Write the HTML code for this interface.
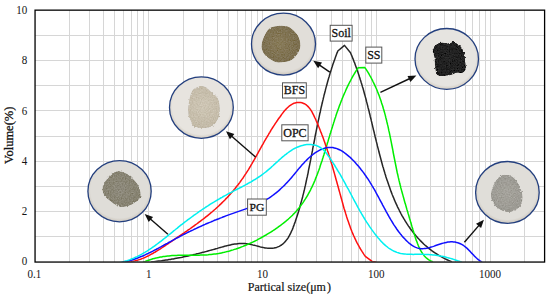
<!DOCTYPE html>
<html><head><meta charset="utf-8">
<style>
html,body{margin:0;padding:0;background:#fff;overflow:hidden;}
svg{display:block;}
text{font-family:"Liberation Serif",serif;fill:#141414;}
.b{stroke:#141414;stroke-width:0.3px;}
</style></head>
<body>
<svg width="550" height="298" viewBox="0 0 550 298">
<rect width="550" height="298" fill="#fff"/>
<g stroke="#d6d6d6" stroke-width="1"><line x1="69.5" y1="10.2" x2="69.5" y2="262"/><line x1="89.5" y1="10.2" x2="89.5" y2="262"/><line x1="103.5" y1="10.2" x2="103.5" y2="262"/><line x1="114.5" y1="10.2" x2="114.5" y2="262"/><line x1="123.5" y1="10.2" x2="123.5" y2="262"/><line x1="131.5" y1="10.2" x2="131.5" y2="262"/><line x1="137.5" y1="10.2" x2="137.5" y2="262"/><line x1="143.5" y1="10.2" x2="143.5" y2="262"/><line x1="148.5" y1="10.2" x2="148.5" y2="262"/><line x1="183.5" y1="10.2" x2="183.5" y2="262"/><line x1="203.5" y1="10.2" x2="203.5" y2="262"/><line x1="217.5" y1="10.2" x2="217.5" y2="262"/><line x1="228.5" y1="10.2" x2="228.5" y2="262"/><line x1="237.5" y1="10.2" x2="237.5" y2="262"/><line x1="245.5" y1="10.2" x2="245.5" y2="262"/><line x1="251.5" y1="10.2" x2="251.5" y2="262"/><line x1="257.5" y1="10.2" x2="257.5" y2="262"/><line x1="262.5" y1="10.2" x2="262.5" y2="262"/><line x1="296.5" y1="10.2" x2="296.5" y2="262"/><line x1="316.5" y1="10.2" x2="316.5" y2="262"/><line x1="331.5" y1="10.2" x2="331.5" y2="262"/><line x1="342.5" y1="10.2" x2="342.5" y2="262"/><line x1="351.5" y1="10.2" x2="351.5" y2="262"/><line x1="358.5" y1="10.2" x2="358.5" y2="262"/><line x1="365.5" y1="10.2" x2="365.5" y2="262"/><line x1="371.5" y1="10.2" x2="371.5" y2="262"/><line x1="376.5" y1="10.2" x2="376.5" y2="262"/><line x1="410.5" y1="10.2" x2="410.5" y2="262"/><line x1="430.5" y1="10.2" x2="430.5" y2="262"/><line x1="444.5" y1="10.2" x2="444.5" y2="262"/><line x1="455.5" y1="10.2" x2="455.5" y2="262"/><line x1="465.5" y1="10.2" x2="465.5" y2="262"/><line x1="472.5" y1="10.2" x2="472.5" y2="262"/><line x1="479.5" y1="10.2" x2="479.5" y2="262"/><line x1="485.5" y1="10.2" x2="485.5" y2="262"/><line x1="490.5" y1="10.2" x2="490.5" y2="262"/><line x1="524.5" y1="10.2" x2="524.5" y2="262"/><line x1="35" y1="236.5" x2="544.6" y2="236.5"/><line x1="35" y1="211.5" x2="544.6" y2="211.5"/><line x1="35" y1="186.5" x2="544.6" y2="186.5"/><line x1="35" y1="161.5" x2="544.6" y2="161.5"/><line x1="35" y1="136.5" x2="544.6" y2="136.5"/><line x1="35" y1="110.5" x2="544.6" y2="110.5"/><line x1="35" y1="85.5" x2="544.6" y2="85.5"/><line x1="35" y1="60.5" x2="544.6" y2="60.5"/><line x1="35" y1="35.5" x2="544.6" y2="35.5"/></g>
<defs><clipPath id="pc"><rect x="35" y="10" width="509.6" height="251.6"/></clipPath></defs>
<g clip-path="url(#pc)"><path d="M151.0,262.0 L152.5,261.8 L154.0,261.7 L155.5,261.5 L157.0,261.3 L158.5,261.1 L160.0,261.0 L161.5,260.8 L163.0,260.5 L164.5,260.3 L165.9,260.1 L167.4,259.9 L168.9,259.6 L170.4,259.4 L171.9,259.1 L173.4,258.9 L174.9,258.6 L176.4,258.3 L177.8,258.0 L179.3,257.7 L180.8,257.5 L182.3,257.2 L183.8,256.8 L185.2,256.5 L186.7,256.2 L188.2,255.9 L189.7,255.6 L191.1,255.2 L192.6,254.9 L194.1,254.5 L195.5,254.2 L197.0,253.8 L198.5,253.5 L199.9,253.1 L201.4,252.7 L202.9,252.3 L204.3,252.0 L205.8,251.6 L207.2,251.2 L208.7,250.8 L210.1,250.4 L211.6,250.0 L213.0,249.6 L214.5,249.2 L215.9,248.8 L217.4,248.4 L218.8,247.9 L220.3,247.5 L221.7,247.1 L223.2,246.7 L224.6,246.3 L226.0,245.9 L227.5,245.6 L228.9,245.2 L230.4,244.9 L231.8,244.6 L233.3,244.3 L234.7,244.1 L236.2,243.9 L237.7,243.7 L239.1,243.6 L240.6,243.5 L242.1,243.5 L243.6,243.5 L245.1,243.6 L246.6,243.7 L248.1,243.9 L249.6,244.2 L251.2,244.5 L252.7,244.9 L254.3,245.2 L255.8,245.6 L257.3,246.1 L258.9,246.5 L260.4,246.9 L262.0,247.2 L263.5,247.6 L265.0,247.9 L266.5,248.1 L268.0,248.2 L269.5,248.3 L271.0,248.3 L272.5,248.2 L273.9,248.0 L275.3,247.7 L276.6,247.4 L277.9,246.9 L279.2,246.4 L280.4,245.7 L281.5,245.0 L282.6,244.2 L283.6,243.3 L284.6,242.3 L285.5,241.2 L286.4,240.1 L287.3,239.0 L288.1,237.8 L288.9,236.5 L289.6,235.2 L290.3,233.8 L291.0,232.4 L291.6,231.0 L292.3,229.6 L292.9,228.1 L293.4,226.6 L294.0,225.1 L294.5,223.6 L295.1,222.1 L295.6,220.6 L296.1,219.1 L296.6,217.6 L297.1,216.1 L297.6,214.6 L298.0,213.2 L298.5,211.7 L298.9,210.2 L299.4,208.7 L299.8,207.3 L300.2,205.8 L300.6,204.3 L301.0,202.8 L301.4,201.4 L301.8,199.9 L302.2,198.5 L302.6,197.0 L302.9,195.6 L303.3,194.1 L303.7,192.6 L304.0,191.2 L304.4,189.7 L304.7,188.3 L305.0,186.8 L305.4,185.4 L305.7,183.9 L306.0,182.5 L306.3,181.0 L306.6,179.6 L306.9,178.1 L307.3,176.7 L307.6,175.2 L307.9,173.8 L308.2,172.3 L308.4,170.9 L308.7,169.4 L309.0,168.0 L309.3,166.5 L309.6,165.1 L309.9,163.6 L310.2,162.1 L310.5,160.7 L310.8,159.2 L311.0,157.7 L311.3,156.3 L311.6,154.8 L311.9,153.3 L312.2,151.8 L312.5,150.4 L312.7,148.9 L313.0,147.4 L313.3,145.9 L313.6,144.4 L313.9,143.0 L314.2,141.5 L314.5,140.0 L314.8,138.5 L315.0,137.0 L315.3,135.5 L315.6,134.0 L315.9,132.6 L316.2,131.1 L316.5,129.6 L316.8,128.1 L317.1,126.6 L317.4,125.1 L317.7,123.6 L318.0,122.1 L318.3,120.6 L318.7,119.1 L319.0,117.7 L319.3,116.2 L319.6,114.7 L319.9,113.2 L320.3,111.7 L320.6,110.2 L320.9,108.7 L321.2,107.3 L321.6,105.8 L321.9,104.3 L322.3,102.8 L322.6,101.3 L323.0,99.9 L323.3,98.4 L323.7,96.9 L324.0,95.4 L324.4,94.0 L324.8,92.5 L325.2,91.0 L325.5,89.6 L325.9,88.1 L326.3,86.6 L326.7,85.2 L327.1,83.7 L327.5,82.3 L327.9,80.8 L328.3,79.4 L328.7,77.9 L329.2,76.5 L329.6,75.0 L330.0,73.6 L330.5,72.1 L330.9,70.7 L331.4,69.3 L331.8,67.8 L332.3,66.4 L332.7,65.0 L333.2,63.6 L333.7,62.2 L334.2,60.8 L334.7,59.4 L335.2,58.0 L335.7,56.6 L336.2,55.2 L336.7,53.8 L337.3,52.4 L337.8,51.0 L344.5,45.4 L350.5,52.8 L351.1,54.2 L351.7,55.6 L352.3,57.0 L352.8,58.4 L353.4,59.8 L353.9,61.2 L354.5,62.6 L355.0,64.0 L355.5,65.4 L356.0,66.8 L356.5,68.2 L357.0,69.7 L357.5,71.1 L358.0,72.5 L358.5,73.9 L359.0,75.4 L359.4,76.8 L359.9,78.2 L360.3,79.7 L360.8,81.1 L361.2,82.5 L361.7,84.0 L362.1,85.4 L362.5,86.9 L363.0,88.3 L363.4,89.8 L363.8,91.2 L364.2,92.7 L364.6,94.2 L365.0,95.6 L365.4,97.1 L365.8,98.5 L366.2,100.0 L366.5,101.5 L366.9,102.9 L367.3,104.4 L367.7,105.9 L368.0,107.4 L368.4,108.8 L368.8,110.3 L369.2,111.8 L369.5,113.3 L369.9,114.7 L370.2,116.2 L370.6,117.7 L371.0,119.2 L371.3,120.7 L371.7,122.1 L372.0,123.6 L372.4,125.1 L372.7,126.6 L373.1,128.1 L373.4,129.6 L373.8,131.0 L374.2,132.5 L374.5,134.0 L374.9,135.5 L375.2,137.0 L375.6,138.5 L376.0,140.0 L376.3,141.4 L376.7,142.9 L377.1,144.4 L377.4,145.9 L377.8,147.4 L378.2,148.9 L378.6,150.4 L378.9,151.8 L379.3,153.3 L379.7,154.8 L380.1,156.3 L380.5,157.8 L380.9,159.3 L381.3,160.7 L381.7,162.2 L382.1,163.7 L382.5,165.2 L382.9,166.7 L383.4,168.1 L383.8,169.6 L384.2,171.1 L384.7,172.6 L385.1,174.0 L385.6,175.5 L386.0,177.0 L386.5,178.4 L387.0,179.9 L387.5,181.3 L388.0,182.8 L388.5,184.3 L389.0,185.7 L389.5,187.1 L390.0,188.6 L390.5,190.0 L391.0,191.4 L391.6,192.9 L392.1,194.3 L392.7,195.7 L393.3,197.1 L393.9,198.5 L394.4,199.9 L395.0,201.3 L395.6,202.7 L396.3,204.1 L396.9,205.4 L397.5,206.8 L398.2,208.1 L398.9,209.5 L399.5,210.8 L400.2,212.1 L400.9,213.5 L401.6,214.8 L402.3,216.1 L403.1,217.4 L403.8,218.7 L404.6,219.9 L405.3,221.2 L406.1,222.4 L406.9,223.7 L407.7,224.9 L408.5,226.1 L409.4,227.3 L410.2,228.5 L411.1,229.7 L412.0,230.9 L412.9,232.1 L413.8,233.2 L414.7,234.3 L415.7,235.5 L416.6,236.6 L417.6,237.7 L418.6,238.8 L419.6,239.8 L420.6,240.9 L421.6,241.9 L422.7,242.9 L423.7,244.0 L424.8,245.0 L425.9,245.9 L427.1,246.9 L428.2,247.8 L429.4,248.8 L430.5,249.7 L431.7,250.6 L432.9,251.5 L434.2,252.3 L435.4,253.2 L436.7,254.0 L438.0,254.8 L439.3,255.6 L440.6,256.4 L442.0,257.1 L443.3,257.9 L444.7,258.6 L446.1,259.3 L447.6,260.0 L449.0,260.6 L450.5,261.3 L452.0,261.9" fill="none" stroke="#262626" stroke-width="1.5" stroke-linejoin="round"/><path d="M143.0,262.5 L144.4,261.9 L145.8,261.3 L147.2,260.7 L148.6,260.2 L150.1,259.7 L151.5,259.3 L152.9,258.8 L154.4,258.4 L155.8,258.1 L157.3,257.7 L158.7,257.4 L160.2,257.1 L161.7,256.9 L163.1,256.6 L164.6,256.4 L166.1,256.2 L167.6,256.0 L169.0,255.9 L170.5,255.7 L172.0,255.6 L173.5,255.5 L175.0,255.4 L176.5,255.4 L178.0,255.3 L179.5,255.3 L181.0,255.2 L182.5,255.2 L184.0,255.2 L185.5,255.2 L187.1,255.2 L188.6,255.2 L190.1,255.2 L191.6,255.2 L193.1,255.2 L194.6,255.2 L196.1,255.2 L197.6,255.2 L199.1,255.2 L200.6,255.1 L202.1,255.1 L203.7,255.0 L205.2,255.0 L206.7,254.9 L208.1,254.8 L209.6,254.6 L211.1,254.5 L212.6,254.3 L214.1,254.1 L215.6,253.9 L217.1,253.7 L218.5,253.5 L220.0,253.2 L221.5,252.9 L222.9,252.6 L224.4,252.3 L225.9,251.9 L227.3,251.5 L228.8,251.2 L230.2,250.8 L231.6,250.3 L233.1,249.9 L234.5,249.4 L235.9,249.0 L237.4,248.5 L238.8,248.0 L240.2,247.5 L241.6,246.9 L243.0,246.4 L244.4,245.8 L245.8,245.2 L247.2,244.6 L248.6,244.0 L249.9,243.4 L251.3,242.8 L252.7,242.1 L254.0,241.5 L255.4,240.8 L256.8,240.1 L258.1,239.4 L259.4,238.7 L260.8,238.0 L262.1,237.2 L263.4,236.5 L264.7,235.7 L266.0,235.0 L267.3,234.2 L268.6,233.4 L269.9,232.6 L271.2,231.8 L272.5,231.0 L273.8,230.1 L275.0,229.3 L276.3,228.4 L277.5,227.6 L278.7,226.7 L279.9,225.8 L281.2,224.9 L282.3,224.0 L283.5,223.1 L284.7,222.2 L285.9,221.2 L287.0,220.2 L288.1,219.3 L289.2,218.3 L290.3,217.2 L291.4,216.2 L292.5,215.2 L293.5,214.1 L294.6,213.0 L295.6,211.9 L296.6,210.8 L297.5,209.7 L298.5,208.6 L299.4,207.4 L300.3,206.2 L301.2,205.0 L302.1,203.8 L303.0,202.6 L303.8,201.4 L304.6,200.1 L305.4,198.9 L306.2,197.6 L307.0,196.3 L307.8,195.0 L308.5,193.7 L309.2,192.4 L309.9,191.1 L310.6,189.8 L311.2,188.4 L311.9,187.1 L312.5,185.7 L313.2,184.4 L313.8,183.0 L314.4,181.6 L315.0,180.2 L315.5,178.8 L316.1,177.4 L316.6,176.0 L317.2,174.6 L317.7,173.2 L318.2,171.8 L318.8,170.3 L319.3,168.9 L319.8,167.5 L320.2,166.0 L320.7,164.6 L321.2,163.1 L321.7,161.7 L322.2,160.2 L322.6,158.8 L323.1,157.3 L323.5,155.9 L324.0,154.4 L324.4,153.0 L324.9,151.5 L325.3,150.1 L325.8,148.6 L326.2,147.2 L326.6,145.7 L327.1,144.3 L327.5,142.8 L328.0,141.4 L328.4,139.9 L328.8,138.5 L329.3,137.0 L329.7,135.6 L330.1,134.1 L330.6,132.7 L331.0,131.2 L331.5,129.8 L331.9,128.4 L332.4,126.9 L332.8,125.5 L333.3,124.0 L333.7,122.6 L334.2,121.2 L334.6,119.7 L335.1,118.3 L335.6,116.9 L336.0,115.5 L336.5,114.0 L337.0,112.6 L337.5,111.2 L338.0,109.8 L338.5,108.4 L339.0,107.0 L339.5,105.6 L340.1,104.1 L340.6,102.7 L341.1,101.4 L341.7,100.0 L342.2,98.6 L342.8,97.2 L343.4,95.8 L344.0,94.4 L344.6,93.0 L345.2,91.7 L345.8,90.3 L346.4,88.9 L347.0,87.6 L347.7,86.2 L348.3,84.9 L349.0,83.5 L349.7,82.2 L350.4,80.9 L351.1,79.5 L351.8,78.2 L352.5,76.9 L353.2,75.6 L354.0,74.3 L354.8,73.0 L355.6,71.7 L356.4,70.4 L357.2,69.1 L358.0,67.8 L364.9,67.6 L365.8,68.9 L366.6,70.1 L367.4,71.4 L368.2,72.7 L369.0,74.0 L369.7,75.3 L370.5,76.7 L371.2,78.0 L371.9,79.3 L372.6,80.7 L373.2,82.0 L373.9,83.4 L374.5,84.7 L375.2,86.1 L375.8,87.5 L376.4,88.8 L377.0,90.2 L377.5,91.6 L378.1,93.0 L378.6,94.4 L379.2,95.8 L379.7,97.2 L380.2,98.7 L380.7,100.1 L381.2,101.5 L381.6,103.0 L382.1,104.4 L382.6,105.8 L383.0,107.3 L383.4,108.7 L383.9,110.2 L384.3,111.7 L384.7,113.1 L385.1,114.6 L385.5,116.1 L385.8,117.5 L386.2,119.0 L386.6,120.5 L386.9,122.0 L387.3,123.5 L387.6,124.9 L388.0,126.4 L388.3,127.9 L388.6,129.4 L388.9,130.9 L389.3,132.4 L389.6,133.9 L389.9,135.4 L390.2,136.9 L390.5,138.4 L390.8,139.9 L391.1,141.4 L391.4,142.9 L391.7,144.5 L392.0,146.0 L392.3,147.5 L392.6,149.0 L392.9,150.5 L393.1,152.0 L393.4,153.5 L393.7,155.0 L394.0,156.5 L394.3,158.0 L394.6,159.5 L394.9,161.0 L395.2,162.5 L395.5,164.0 L395.8,165.5 L396.1,167.0 L396.4,168.5 L396.7,170.0 L397.0,171.5 L397.3,173.0 L397.7,174.5 L398.0,175.9 L398.3,177.4 L398.7,178.9 L399.0,180.4 L399.4,181.8 L399.7,183.3 L400.1,184.8 L400.5,186.2 L400.8,187.7 L401.2,189.1 L401.6,190.6 L402.0,192.0 L402.4,193.5 L402.8,194.9 L403.2,196.4 L403.6,197.8 L404.0,199.3 L404.4,200.7 L404.8,202.2 L405.2,203.6 L405.7,205.1 L406.1,206.5 L406.5,208.0 L406.9,209.4 L407.4,210.9 L407.8,212.3 L408.2,213.8 L408.7,215.3 L409.1,216.7 L409.5,218.2 L410.0,219.7 L410.4,221.1 L410.8,222.6 L411.3,224.1 L411.7,225.6 L412.1,227.0 L412.6,228.5 L413.0,230.0 L413.5,231.5 L413.9,233.0 L414.4,234.5 L414.9,235.9 L415.3,237.4 L415.8,238.9 L416.3,240.4 L416.9,241.8 L417.4,243.3 L418.0,244.7 L418.5,246.1 L419.2,247.5 L419.8,248.9 L420.5,250.2 L421.2,251.5 L422.0,252.7 L422.8,253.9 L423.7,255.1 L424.6,256.2 L425.6,257.2 L426.6,258.2 L427.8,259.1 L428.9,259.9 L430.2,260.6 L431.6,261.3 L433.0,261.9" fill="none" stroke="#00ee00" stroke-width="1.5" stroke-linejoin="round"/><path d="M125.7,262.4 L127.3,262.3 L128.8,262.1 L130.4,261.9 L131.9,261.6 L133.4,261.3 L134.9,260.9 L136.3,260.5 L137.8,260.1 L139.2,259.6 L140.6,259.2 L142.0,258.6 L143.4,258.1 L144.8,257.5 L146.1,256.9 L147.5,256.2 L148.8,255.6 L150.1,254.9 L151.4,254.2 L152.7,253.5 L154.0,252.7 L155.3,252.0 L156.6,251.2 L157.8,250.4 L159.1,249.6 L160.4,248.8 L161.6,248.0 L162.9,247.1 L164.1,246.3 L165.4,245.5 L166.6,244.6 L167.9,243.8 L169.1,242.9 L170.4,242.1 L171.6,241.3 L172.9,240.4 L174.1,239.6 L175.4,238.7 L176.7,237.9 L177.9,237.0 L179.2,236.2 L180.4,235.3 L181.7,234.5 L182.9,233.6 L184.2,232.8 L185.4,231.9 L186.7,231.1 L187.9,230.2 L189.2,229.3 L190.4,228.5 L191.6,227.6 L192.9,226.7 L194.1,225.8 L195.3,224.9 L196.6,224.0 L197.8,223.1 L199.0,222.2 L200.2,221.3 L201.4,220.4 L202.6,219.5 L203.8,218.6 L205.0,217.7 L206.2,216.7 L207.3,215.8 L208.5,214.8 L209.7,213.9 L210.8,212.9 L212.0,212.0 L213.1,211.0 L214.2,210.0 L215.4,209.0 L216.5,208.0 L217.6,207.0 L218.7,206.0 L219.8,204.9 L220.9,203.9 L221.9,202.9 L223.0,201.8 L224.1,200.7 L225.1,199.7 L226.1,198.6 L227.2,197.5 L228.2,196.4 L229.2,195.3 L230.2,194.2 L231.2,193.1 L232.2,191.9 L233.2,190.8 L234.1,189.6 L235.1,188.5 L236.0,187.3 L236.9,186.1 L237.9,185.0 L238.8,183.8 L239.7,182.6 L240.6,181.3 L241.4,180.1 L242.3,178.9 L243.2,177.7 L244.0,176.4 L244.8,175.2 L245.7,173.9 L246.5,172.6 L247.3,171.3 L248.1,170.1 L248.9,168.8 L249.7,167.5 L250.5,166.2 L251.2,164.9 L252.0,163.6 L252.8,162.2 L253.5,160.9 L254.3,159.6 L255.0,158.3 L255.7,157.0 L256.5,155.7 L257.2,154.3 L258.0,153.0 L258.7,151.7 L259.4,150.4 L260.1,149.1 L260.9,147.7 L261.6,146.4 L262.3,145.1 L263.1,143.8 L263.8,142.5 L264.5,141.2 L265.3,139.9 L266.0,138.6 L266.8,137.4 L267.5,136.1 L268.3,134.8 L269.0,133.5 L269.8,132.3 L270.6,131.0 L271.3,129.7 L272.1,128.5 L272.9,127.2 L273.8,125.9 L274.6,124.7 L275.4,123.4 L276.3,122.1 L277.2,120.8 L278.0,119.5 L278.9,118.3 L279.9,117.0 L280.8,115.7 L281.7,114.4 L282.7,113.1 L283.7,111.8 L284.7,110.6 L285.8,109.4 L286.9,108.3 L288.0,107.2 L289.1,106.2 L290.3,105.4 L291.5,104.6 L292.7,103.9 L294.0,103.3 L295.3,102.9 L296.6,102.6 L298.0,102.5 L299.3,102.5 L300.6,102.6 L301.9,102.8 L303.1,103.2 L304.3,103.7 L305.5,104.4 L306.6,105.2 L307.6,106.1 L308.6,107.1 L309.5,108.2 L310.4,109.4 L311.2,110.6 L312.0,111.9 L312.7,113.3 L313.4,114.7 L314.1,116.1 L314.8,117.6 L315.5,119.0 L316.1,120.5 L316.7,121.9 L317.4,123.4 L318.0,124.8 L318.6,126.3 L319.2,127.7 L319.8,129.2 L320.3,130.6 L320.9,132.1 L321.5,133.5 L322.0,135.0 L322.6,136.4 L323.1,137.8 L323.6,139.3 L324.1,140.7 L324.6,142.1 L325.1,143.5 L325.6,145.0 L326.1,146.4 L326.6,147.8 L327.1,149.2 L327.5,150.7 L328.0,152.1 L328.5,153.5 L328.9,154.9 L329.4,156.4 L329.8,157.8 L330.2,159.2 L330.7,160.6 L331.1,162.0 L331.5,163.5 L332.0,164.9 L332.4,166.3 L332.8,167.7 L333.2,169.2 L333.6,170.6 L334.0,172.0 L334.4,173.4 L334.8,174.9 L335.2,176.3 L335.6,177.7 L336.0,179.2 L336.4,180.6 L336.8,182.0 L337.2,183.5 L337.6,184.9 L338.0,186.3 L338.4,187.8 L338.8,189.2 L339.2,190.7 L339.6,192.1 L340.0,193.6 L340.4,195.0 L340.8,196.5 L341.2,198.0 L341.6,199.4 L342.0,200.9 L342.4,202.3 L342.8,203.8 L343.2,205.3 L343.6,206.7 L344.0,208.2 L344.5,209.7 L344.9,211.1 L345.4,212.6 L345.8,214.0 L346.3,215.5 L346.7,217.0 L347.2,218.4 L347.7,219.9 L348.2,221.3 L348.7,222.7 L349.2,224.2 L349.7,225.6 L350.2,227.0 L350.7,228.5 L351.3,229.9 L351.8,231.3 L352.4,232.7 L353.0,234.1 L353.6,235.5 L354.2,236.8 L354.8,238.2 L355.5,239.6 L356.1,240.9 L356.8,242.3 L357.5,243.6 L358.2,244.9 L358.9,246.2 L359.6,247.5 L360.4,248.8 L361.2,250.1 L362.0,251.4 L362.8,252.6 L363.6,253.9 L364.4,255.1 L365.3,256.3 L372.1,261.4 L376.0,262.0" fill="none" stroke="#ff1010" stroke-width="1.5" stroke-linejoin="round"/><path d="M121.7,262.6 L123.2,262.3 L124.7,262.0 L126.2,261.6 L127.7,261.2 L129.1,260.8 L130.6,260.4 L132.0,260.0 L133.4,259.5 L134.9,259.0 L136.3,258.5 L137.7,258.0 L139.1,257.4 L140.5,256.8 L141.9,256.3 L143.3,255.7 L144.6,255.1 L146.0,254.4 L147.4,253.8 L148.7,253.1 L150.1,252.5 L151.4,251.8 L152.8,251.1 L154.1,250.4 L155.4,249.8 L156.8,249.0 L158.1,248.3 L159.4,247.6 L160.8,246.9 L162.1,246.2 L163.4,245.5 L164.7,244.7 L166.0,244.0 L167.4,243.3 L168.7,242.5 L170.0,241.8 L171.3,241.1 L172.6,240.4 L174.0,239.6 L175.3,238.9 L176.6,238.2 L177.9,237.5 L179.3,236.8 L180.6,236.1 L181.9,235.4 L183.3,234.7 L184.6,234.0 L186.0,233.4 L187.3,232.7 L188.6,232.0 L190.0,231.4 L191.3,230.7 L192.7,230.1 L194.1,229.4 L195.4,228.8 L196.8,228.1 L198.1,227.5 L199.5,226.9 L200.9,226.3 L202.2,225.6 L203.6,225.0 L205.0,224.4 L206.3,223.8 L207.7,223.2 L209.1,222.6 L210.5,222.1 L211.9,221.5 L213.3,220.9 L214.6,220.3 L216.0,219.8 L217.4,219.2 L218.8,218.7 L220.2,218.1 L221.6,217.6 L223.0,217.0 L224.4,216.5 L225.9,215.9 L227.3,215.4 L228.7,214.9 L230.1,214.4 L231.5,213.9 L233.0,213.4 L234.4,212.9 L235.8,212.4 L237.2,211.9 L238.7,211.4 L240.1,210.9 L241.5,210.4 L243.0,209.9 L244.4,209.4 L245.8,208.9 L247.2,208.4 L248.7,207.9 L250.1,207.3 L251.5,206.8 L252.9,206.2 L254.3,205.7 L255.7,205.1 L257.0,204.5 L258.4,203.9 L259.7,203.2 L261.1,202.6 L262.4,201.9 L263.7,201.2 L265.0,200.4 L266.3,199.7 L267.6,198.9 L268.9,198.1 L270.1,197.3 L271.4,196.4 L272.6,195.5 L273.8,194.6 L275.0,193.7 L276.1,192.8 L277.3,191.8 L278.5,190.9 L279.6,189.9 L280.7,188.8 L281.8,187.8 L282.9,186.8 L284.0,185.7 L285.1,184.6 L286.1,183.5 L287.2,182.4 L288.2,181.3 L289.2,180.2 L290.2,179.1 L291.2,177.9 L292.2,176.7 L293.1,175.6 L294.1,174.4 L295.1,173.2 L296.0,172.1 L297.0,170.9 L297.9,169.7 L298.9,168.6 L299.9,167.4 L300.9,166.3 L301.9,165.1 L302.9,164.0 L303.9,162.9 L304.9,161.7 L306.0,160.7 L307.1,159.6 L308.2,158.5 L309.3,157.5 L310.5,156.5 L311.7,155.5 L312.9,154.5 L314.1,153.6 L315.4,152.7 L316.7,151.9 L318.0,151.1 L319.3,150.4 L320.6,149.7 L322.0,149.1 L323.3,148.6 L324.7,148.2 L326.1,147.8 L327.4,147.6 L328.8,147.4 L330.2,147.4 L331.5,147.4 L332.9,147.6 L334.2,147.9 L335.6,148.2 L336.9,148.6 L338.2,149.2 L339.5,149.8 L340.8,150.4 L342.1,151.2 L343.4,152.0 L344.6,152.9 L345.9,153.8 L347.1,154.8 L348.3,155.8 L349.5,156.8 L350.7,157.9 L351.8,159.0 L353.0,160.2 L354.1,161.3 L355.2,162.5 L356.2,163.7 L357.3,164.9 L358.3,166.1 L359.3,167.3 L360.3,168.5 L361.2,169.7 L362.2,170.9 L363.1,172.1 L364.0,173.3 L364.8,174.5 L365.7,175.7 L366.5,177.0 L367.4,178.2 L368.2,179.4 L369.0,180.7 L369.8,181.9 L370.5,183.1 L371.3,184.4 L372.0,185.6 L372.8,186.9 L373.5,188.2 L374.3,189.4 L375.0,190.7 L375.7,192.0 L376.4,193.3 L377.1,194.6 L377.8,195.9 L378.5,197.2 L379.2,198.5 L379.9,199.8 L380.6,201.1 L381.3,202.4 L382.0,203.7 L382.7,205.1 L383.4,206.4 L384.1,207.7 L384.9,209.1 L385.6,210.4 L386.3,211.8 L387.1,213.1 L387.8,214.5 L388.6,215.8 L389.3,217.2 L390.1,218.5 L390.9,219.9 L391.7,221.2 L392.5,222.5 L393.3,223.8 L394.1,225.1 L395.0,226.4 L395.9,227.7 L396.7,229.0 L397.6,230.2 L398.5,231.5 L399.5,232.7 L400.4,233.9 L401.4,235.1 L402.3,236.3 L403.3,237.4 L404.4,238.5 L405.4,239.6 L406.5,240.7 L407.6,241.8 L408.7,242.8 L409.8,243.7 L411.0,244.6 L412.1,245.4 L413.3,246.2 L414.6,246.9 L415.8,247.4 L417.1,247.9 L418.4,248.3 L419.7,248.5 L421.1,248.7 L422.5,248.7 L423.9,248.6 L425.3,248.4 L426.7,248.2 L428.2,247.9 L429.7,247.5 L431.2,247.0 L432.7,246.6 L434.2,246.1 L435.7,245.5 L437.2,245.0 L438.7,244.5 L440.3,244.0 L441.8,243.5 L443.3,243.1 L444.8,242.7 L446.3,242.4 L447.8,242.1 L449.3,241.9 L450.8,241.8 L452.2,241.8 L453.6,241.9 L455.1,242.1 L456.4,242.4 L457.8,242.8 L459.1,243.2 L460.4,243.8 L461.7,244.4 L463.0,245.2 L464.2,246.0 L465.3,246.9 L466.5,247.8 L467.6,248.9 L468.7,250.0 L469.8,251.1 L470.8,252.2 L471.9,253.4 L473.0,254.5 L474.0,255.6 L475.1,256.7 L476.2,257.8 L477.3,258.8 L478.4,259.7 L479.6,260.6 L480.8,261.3 L482.0,262.0" fill="none" stroke="#1010ff" stroke-width="1.5" stroke-linejoin="round"/><path d="M119.7,262.6 L121.2,262.3 L122.7,261.9 L124.2,261.5 L125.7,261.0 L127.2,260.6 L128.6,260.1 L130.0,259.6 L131.5,259.0 L132.8,258.5 L134.2,257.9 L135.6,257.2 L137.0,256.6 L138.3,256.0 L139.6,255.3 L140.9,254.6 L142.2,253.9 L143.5,253.1 L144.8,252.4 L146.1,251.6 L147.4,250.8 L148.6,250.0 L149.9,249.2 L151.1,248.4 L152.3,247.5 L153.6,246.7 L154.8,245.8 L156.0,244.9 L157.2,244.0 L158.4,243.1 L159.6,242.2 L160.8,241.3 L162.0,240.4 L163.2,239.4 L164.3,238.5 L165.5,237.6 L166.7,236.6 L167.9,235.7 L169.0,234.7 L170.2,233.8 L171.4,232.8 L172.6,231.9 L173.7,230.9 L174.9,230.0 L176.1,229.0 L177.3,228.1 L178.4,227.1 L179.6,226.2 L180.8,225.2 L182.0,224.3 L183.2,223.4 L184.4,222.4 L185.6,221.5 L186.8,220.6 L188.0,219.7 L189.2,218.8 L190.5,217.9 L191.7,217.0 L192.9,216.1 L194.1,215.2 L195.4,214.3 L196.6,213.5 L197.8,212.6 L199.1,211.7 L200.3,210.9 L201.6,210.0 L202.8,209.2 L204.1,208.3 L205.3,207.5 L206.6,206.7 L207.9,205.9 L209.1,205.0 L210.4,204.2 L211.7,203.4 L213.0,202.6 L214.2,201.9 L215.5,201.1 L216.8,200.3 L218.1,199.5 L219.4,198.8 L220.7,198.0 L222.0,197.3 L223.3,196.5 L224.6,195.8 L226.0,195.1 L227.3,194.4 L228.6,193.7 L229.9,193.0 L231.3,192.3 L232.6,191.6 L233.9,190.9 L235.3,190.2 L236.6,189.5 L237.9,188.8 L239.2,188.2 L240.6,187.5 L241.9,186.8 L243.2,186.1 L244.6,185.4 L245.9,184.7 L247.2,184.0 L248.5,183.2 L249.8,182.5 L251.1,181.8 L252.4,181.0 L253.7,180.2 L255.0,179.5 L256.3,178.7 L257.5,177.8 L258.8,177.0 L260.1,176.2 L261.3,175.3 L262.5,174.4 L263.7,173.5 L265.0,172.5 L266.2,171.6 L267.3,170.6 L268.5,169.6 L269.7,168.6 L270.9,167.6 L272.0,166.5 L273.2,165.5 L274.3,164.4 L275.5,163.4 L276.6,162.3 L277.8,161.3 L278.9,160.2 L280.1,159.2 L281.2,158.2 L282.4,157.2 L283.6,156.2 L284.7,155.2 L285.9,154.3 L287.1,153.3 L288.3,152.5 L289.5,151.6 L290.7,150.8 L292.0,150.0 L293.2,149.2 L294.5,148.5 L295.8,147.9 L297.1,147.3 L298.5,146.7 L299.8,146.2 L301.2,145.8 L302.6,145.4 L304.0,145.1 L305.4,144.8 L306.8,144.6 L308.3,144.5 L309.7,144.5 L311.1,144.5 L312.5,144.7 L313.9,144.9 L315.3,145.2 L316.6,145.6 L317.9,146.2 L319.1,146.8 L320.4,147.5 L321.5,148.3 L322.6,149.3 L323.7,150.3 L324.8,151.4 L325.8,152.5 L326.8,153.8 L327.7,155.0 L328.6,156.3 L329.6,157.6 L330.4,158.9 L331.3,160.3 L332.2,161.6 L333.0,162.9 L333.9,164.2 L334.7,165.5 L335.5,166.8 L336.3,168.2 L337.1,169.5 L337.9,170.8 L338.7,172.1 L339.5,173.4 L340.3,174.7 L341.0,176.0 L341.8,177.3 L342.5,178.7 L343.2,180.0 L344.0,181.3 L344.7,182.6 L345.4,183.9 L346.1,185.3 L346.8,186.6 L347.5,187.9 L348.3,189.2 L349.0,190.5 L349.7,191.9 L350.4,193.2 L351.1,194.5 L351.8,195.8 L352.5,197.2 L353.2,198.5 L353.9,199.8 L354.6,201.1 L355.3,202.4 L356.0,203.7 L356.7,205.0 L357.4,206.4 L358.1,207.7 L358.9,209.0 L359.6,210.3 L360.3,211.6 L361.1,212.9 L361.8,214.2 L362.6,215.5 L363.3,216.7 L364.1,218.0 L364.9,219.3 L365.7,220.6 L366.5,221.9 L367.3,223.1 L368.2,224.4 L369.0,225.6 L369.8,226.9 L370.7,228.1 L371.6,229.4 L372.5,230.6 L373.4,231.9 L374.3,233.1 L375.2,234.3 L376.2,235.5 L377.2,236.7 L378.1,237.9 L379.2,239.1 L380.2,240.3 L381.2,241.4 L382.3,242.5 L383.4,243.6 L384.5,244.6 L385.6,245.6 L386.8,246.5 L387.9,247.5 L389.1,248.3 L390.4,249.1 L391.6,249.9 L392.9,250.6 L394.2,251.3 L395.5,251.8 L396.9,252.4 L398.3,252.8 L399.7,253.2 L401.1,253.5 L402.6,253.7 L404.1,253.9 L405.6,254.1 L407.1,254.2 L408.6,254.3 L410.2,254.3 L411.7,254.3 L413.3,254.4 L414.9,254.3 L416.4,254.3 L418.0,254.3 L419.5,254.3 L421.0,254.3 L422.6,254.3 L424.1,254.4 L425.6,254.4 L427.1,254.5 L428.6,254.6 L430.1,254.7 L431.6,254.8 L433.0,254.9 L434.5,255.1 L436.0,255.3 L437.4,255.5 L438.9,255.7 L440.3,256.0 L441.8,256.2 L443.2,256.5 L444.6,256.8 L446.1,257.2 L447.5,257.6 L448.9,258.0 L450.4,258.4 L451.8,258.8 L453.3,259.3 L454.7,259.7 L456.1,260.2 L457.6,260.7 L459.1,261.1 L460.5,261.6 L462.0,262.0" fill="none" stroke="#00f0f0" stroke-width="1.5" stroke-linejoin="round"/></g>
<rect x="35.05" y="10.15" width="509.55" height="251.9" fill="none" stroke="#000" stroke-width="1.3"/>
<defs><radialGradient id="bg1" cx="50%" cy="48%" r="52%"><stop offset="0" stop-color="#dfddd8"/><stop offset="0.88" stop-color="#dfddd8"/><stop offset="1" stop-color="#ccc6bc"/></radialGradient><radialGradient id="bl1" gradientUnits="userSpaceOnUse" cx="120.3" cy="189.1" r="22"><stop offset="0" stop-color="#8e8a7c"/><stop offset="1" stop-color="#85816f"/></radialGradient><filter id="fb1" x="-30%" y="-30%" width="160%" height="160%"><feTurbulence type="fractalNoise" baseFrequency="0.5" numOctaves="2" seed="1" result="n"/><feDisplacementMap in="SourceGraphic" in2="n" scale="3" xChannelSelector="R" yChannelSelector="G" result="d"/><feGaussianBlur in="d" stdDeviation="0.45" result="b"/><feTurbulence type="fractalNoise" baseFrequency="0.75" numOctaves="2" seed="8" result="n2"/><feColorMatrix in="n2" type="matrix" values="0.33 0.33 0.33 0 0  0.33 0.33 0.33 0 0  0.33 0.33 0.33 0 0  0 0 0 0 1" result="g"/><feComposite in="b" in2="g" operator="arithmetic" k1="0" k2="1" k3="0.350" k4="-0.175" result="t"/><feComposite in="t" in2="b" operator="in"/></filter></defs><ellipse cx="119.55" cy="191.2" rx="31.65" ry="30.6" fill="url(#bg1)"/><path d="M116.8,171.7 C118.6,171.3 119.8,171.1 121.8,171.7 C123.8,172.3 126.1,173.1 128.6,175.1 C131.1,177.1 135.1,180.7 137.0,183.5 C138.9,186.3 139.9,189.3 140.3,191.8 C140.7,194.3 140.9,196.5 139.5,198.6 C138.1,200.7 134.8,203.0 131.9,204.4 C129.0,205.8 124.6,206.9 121.8,206.9 C119.0,206.9 117.3,205.7 115.1,204.4 C112.9,203.2 110.2,200.9 108.4,199.4 C106.6,197.9 105.2,197.0 104.2,195.2 C103.2,193.4 102.4,190.7 102.6,188.5 C102.8,186.3 103.7,184.2 105.1,181.8 C106.5,179.4 109.0,175.9 110.9,174.2 C112.9,172.5 115.0,172.1 116.8,171.7Z" fill="url(#bl1)" filter="url(#fb1)"/><ellipse cx="119.55" cy="191.2" rx="31.65" ry="30.6" fill="none" stroke="#233f7e" stroke-width="1.3"/><defs><radialGradient id="bg2" cx="50%" cy="48%" r="52%"><stop offset="0" stop-color="#e7e4df"/><stop offset="0.88" stop-color="#e7e4df"/><stop offset="1" stop-color="#d0c9bd"/></radialGradient><radialGradient id="bl2" gradientUnits="userSpaceOnUse" cx="203.1" cy="106.2" r="22"><stop offset="0" stop-color="#cec6b5"/><stop offset="1" stop-color="#c3baa7"/></radialGradient><filter id="fb2" x="-30%" y="-30%" width="160%" height="160%"><feTurbulence type="fractalNoise" baseFrequency="0.5" numOctaves="2" seed="2" result="n"/><feDisplacementMap in="SourceGraphic" in2="n" scale="3" xChannelSelector="R" yChannelSelector="G" result="d"/><feGaussianBlur in="d" stdDeviation="0.45" result="b"/><feTurbulence type="fractalNoise" baseFrequency="0.75" numOctaves="2" seed="9" result="n2"/><feColorMatrix in="n2" type="matrix" values="0.33 0.33 0.33 0 0  0.33 0.33 0.33 0 0  0.33 0.33 0.33 0 0  0 0 0 0 1" result="g"/><feComposite in="b" in2="g" operator="arithmetic" k1="0" k2="1" k3="0.350" k4="-0.175" result="t"/><feComposite in="t" in2="b" operator="in"/></filter></defs><ellipse cx="201.4" cy="107.55" rx="31.9" ry="30.75" fill="url(#bg2)"/><path d="M196.6,87.4 C198.4,86.8 201.4,85.6 204.0,86.5 C206.6,87.4 210.0,90.9 212.3,92.9 C214.6,94.9 216.6,96.0 217.8,98.5 C219.0,101.0 219.5,104.6 219.7,107.7 C219.8,110.8 219.8,114.0 218.7,116.9 C217.6,119.8 215.6,123.4 213.2,125.2 C210.8,127.0 207.2,127.8 204.0,128.0 C200.8,128.2 196.3,127.9 193.8,126.1 C191.3,124.2 190.1,120.0 189.2,116.9 C188.3,113.8 188.2,111.1 188.3,107.7 C188.5,104.3 189.3,99.5 190.1,96.6 C190.9,93.7 191.8,91.6 192.9,90.1 C194.0,88.6 194.8,88.0 196.6,87.4Z" fill="url(#bl2)" filter="url(#fb2)"/><ellipse cx="201.4" cy="107.55" rx="31.9" ry="30.75" fill="none" stroke="#233f7e" stroke-width="1.3"/><defs><radialGradient id="bg3" cx="50%" cy="48%" r="52%"><stop offset="0" stop-color="#e1ded9"/><stop offset="0.88" stop-color="#e1ded9"/><stop offset="1" stop-color="#ccc5ba"/></radialGradient><radialGradient id="bl3" gradientUnits="userSpaceOnUse" cx="279.4" cy="43.4" r="22"><stop offset="0" stop-color="#887b5a"/><stop offset="1" stop-color="#7b6e4f"/></radialGradient><filter id="fb3" x="-30%" y="-30%" width="160%" height="160%"><feTurbulence type="fractalNoise" baseFrequency="0.5" numOctaves="2" seed="3" result="n"/><feDisplacementMap in="SourceGraphic" in2="n" scale="2" xChannelSelector="R" yChannelSelector="G" result="d"/><feGaussianBlur in="d" stdDeviation="0.45" result="b"/><feTurbulence type="fractalNoise" baseFrequency="0.75" numOctaves="2" seed="10" result="n2"/><feColorMatrix in="n2" type="matrix" values="0.33 0.33 0.33 0 0  0.33 0.33 0.33 0 0  0.33 0.33 0.33 0 0  0 0 0 0 1" result="g"/><feComposite in="b" in2="g" operator="arithmetic" k1="0" k2="1" k3="0.250" k4="-0.125" result="t"/><feComposite in="t" in2="b" operator="in"/></filter></defs><ellipse cx="283.5" cy="44.1" rx="32.0" ry="31.0" fill="url(#bg3)"/><path d="M277.7,25.9 C279.9,25.6 281.8,25.6 283.8,25.9 C285.8,26.2 287.6,26.0 289.9,27.6 C292.2,29.2 296.1,32.5 297.8,35.5 C299.6,38.5 300.5,42.7 300.4,45.9 C300.2,49.1 298.6,52.2 296.9,54.7 C295.1,57.2 292.9,59.5 289.9,60.8 C286.8,62.1 281.7,62.6 278.6,62.5 C275.6,62.4 273.8,61.1 271.6,59.9 C269.4,58.7 267.1,57.2 265.5,55.5 C263.9,53.8 262.6,51.6 262.0,49.4 C261.4,47.2 261.4,45.0 262.0,42.4 C262.6,39.8 264.1,36.2 265.5,33.7 C266.9,31.2 268.7,28.9 270.7,27.6 C272.7,26.3 275.5,26.2 277.7,25.9Z" fill="url(#bl3)" filter="url(#fb3)"/><ellipse cx="283.5" cy="44.1" rx="32.0" ry="31.0" fill="none" stroke="#233f7e" stroke-width="1.3"/><defs><radialGradient id="bg4" cx="50%" cy="48%" r="52%"><stop offset="0" stop-color="#e6e4e0"/><stop offset="0.88" stop-color="#e6e4e0"/><stop offset="1" stop-color="#d2cbc0"/></radialGradient><radialGradient id="bl4" gradientUnits="userSpaceOnUse" cx="448.8" cy="57.8" r="22"><stop offset="0" stop-color="#262626"/><stop offset="1" stop-color="#1e1e1e"/></radialGradient><filter id="fb4" x="-30%" y="-30%" width="160%" height="160%"><feTurbulence type="fractalNoise" baseFrequency="0.4" numOctaves="2" seed="4" result="n"/><feDisplacementMap in="SourceGraphic" in2="n" scale="3" xChannelSelector="R" yChannelSelector="G" result="d"/><feGaussianBlur in="d" stdDeviation="0.45" result="b"/><feTurbulence type="fractalNoise" baseFrequency="0.75" numOctaves="2" seed="11" result="n2"/><feColorMatrix in="n2" type="matrix" values="0.33 0.33 0.33 0 0  0.33 0.33 0.33 0 0  0.33 0.33 0.33 0 0  0 0 0 0 1" result="g"/><feComposite in="b" in2="g" operator="arithmetic" k1="0" k2="1" k3="0.080" k4="-0.040" result="t"/><feComposite in="t" in2="b" operator="in"/></filter></defs><ellipse cx="446.75" cy="58.9" rx="31.75" ry="30.4" fill="url(#bg4)"/><path d="M436.7,44.2 C438.1,43.4 439.8,42.7 441.8,42.6 C443.8,42.5 446.6,43.5 448.5,43.4 C450.4,43.2 452.1,41.7 453.5,41.7 C454.9,41.7 455.6,42.6 456.9,43.4 C458.2,44.2 459.9,45.0 461.1,46.7 C462.4,48.4 463.7,51.0 464.4,53.5 C465.1,56.0 465.0,59.3 465.3,61.8 C465.6,64.3 466.5,66.8 466.1,68.6 C465.7,70.4 464.3,72.1 462.8,72.8 C461.3,73.5 459.0,72.4 456.9,72.8 C454.8,73.2 452.7,74.8 450.2,75.3 C447.7,75.8 444.1,76.2 441.8,76.1 C439.6,75.9 437.8,75.9 436.7,74.4 C435.6,72.9 435.5,69.8 435.1,66.9 C434.7,64.0 434.6,59.5 434.2,56.8 C433.8,54.1 432.7,52.4 432.6,50.9 C432.5,49.4 432.7,48.7 433.4,47.6 C434.1,46.5 435.3,45.0 436.7,44.2Z" fill="url(#bl4)" filter="url(#fb4)"/><ellipse cx="446.75" cy="58.9" rx="31.75" ry="30.4" fill="none" stroke="#233f7e" stroke-width="1.3"/><defs><radialGradient id="bg5" cx="50%" cy="48%" r="52%"><stop offset="0" stop-color="#e0ded9"/><stop offset="0.88" stop-color="#e0ded9"/><stop offset="1" stop-color="#ccc6bc"/></radialGradient><radialGradient id="bl5" gradientUnits="userSpaceOnUse" cx="506.5" cy="193.5" r="22"><stop offset="0" stop-color="#a6a49d"/><stop offset="1" stop-color="#9a9891"/></radialGradient><filter id="fb5" x="-30%" y="-30%" width="160%" height="160%"><feTurbulence type="fractalNoise" baseFrequency="0.5" numOctaves="2" seed="5" result="n"/><feDisplacementMap in="SourceGraphic" in2="n" scale="3" xChannelSelector="R" yChannelSelector="G" result="d"/><feGaussianBlur in="d" stdDeviation="0.45" result="b"/><feTurbulence type="fractalNoise" baseFrequency="0.75" numOctaves="2" seed="12" result="n2"/><feColorMatrix in="n2" type="matrix" values="0.33 0.33 0.33 0 0  0.33 0.33 0.33 0 0  0.33 0.33 0.33 0 0  0 0 0 0 1" result="g"/><feComposite in="b" in2="g" operator="arithmetic" k1="0" k2="1" k3="0.350" k4="-0.175" result="t"/><feComposite in="t" in2="b" operator="in"/></filter></defs><ellipse cx="507.4" cy="192.4" rx="31.8" ry="30.9" fill="url(#bg5)"/><path d="M505.5,174.7 C507.9,174.7 510.8,175.5 513.0,177.2 C515.2,178.9 517.4,181.9 518.9,184.8 C520.4,187.7 521.9,191.6 522.3,194.8 C522.7,198.0 522.5,201.6 521.4,204.1 C520.3,206.6 518.0,208.7 515.6,210.0 C513.2,211.3 510.1,212.3 507.2,212.0 C504.3,211.7 500.5,210.2 498.0,208.3 C495.5,206.4 493.2,203.2 492.1,200.7 C491.0,198.2 490.9,195.8 491.2,193.2 C491.5,190.5 492.4,187.5 493.7,184.8 C495.0,182.1 496.8,178.9 498.8,177.2 C500.8,175.5 503.1,174.7 505.5,174.7Z" fill="url(#bl5)" filter="url(#fb5)"/><ellipse cx="507.4" cy="192.4" rx="31.8" ry="30.9" fill="none" stroke="#233f7e" stroke-width="1.3"/>
<line x1="167.9" y1="234.2" x2="150.1" y2="218.8" stroke="#111" stroke-width="1.4"/><path d="M144.7,214.1 L153.1,216.9 L148.7,222.0 Z" fill="#111"/><line x1="255.5" y1="157" x2="231.4" y2="136.0" stroke="#111" stroke-width="1.4"/><path d="M226.0,131.3 L234.4,134.1 L229.9,139.2 Z" fill="#111"/><line x1="329.8" y1="72.1" x2="319.2" y2="64.8" stroke="#111" stroke-width="1.4"/><path d="M313.3,60.7 L322.0,62.6 L318.1,68.2 Z" fill="#111"/><line x1="380.4" y1="92.3" x2="409.9" y2="78.5" stroke="#111" stroke-width="1.4"/><path d="M416.4,75.5 L410.4,82.0 L407.5,75.9 Z" fill="#111"/><line x1="464.4" y1="242.2" x2="479.2" y2="225.1" stroke="#111" stroke-width="1.4"/><path d="M483.9,219.7 L481.1,228.1 L476.0,223.7 Z" fill="#111"/>
<rect x="330.20" y="25.30" width="21.90" height="15.80" fill="#fff" stroke="#555" stroke-width="1"/><text class="b" transform="translate(341.15,36.60) scale(1,0.96)" text-anchor="middle" font-size="12">Soil</text><rect x="365.80" y="47.10" width="16.00" height="16.00" fill="#fff" stroke="#555" stroke-width="1"/><text class="b" transform="translate(373.80,58.70) scale(1,0.96)" text-anchor="middle" font-size="12">SS</text><rect x="282.50" y="82.80" width="23.80" height="15.20" fill="#fff" stroke="#555" stroke-width="1"/><text class="b" transform="translate(294.40,94.10) scale(1,0.96)" text-anchor="middle" font-size="12">BFS</text><rect x="281.80" y="124.80" width="26.30" height="16.00" fill="#fff" stroke="#555" stroke-width="1"/><text class="b" transform="translate(294.95,136.80) scale(1,0.96)" text-anchor="middle" font-size="12">OPC</text><rect x="247.60" y="199.00" width="18.70" height="16.20" fill="#fff" stroke="#555" stroke-width="1"/><text class="b" transform="translate(256.95,210.90) scale(1,0.96)" text-anchor="middle" font-size="11.6">PG</text>
<g font-size="11.5" fill="#1e1e1e"><text transform="translate(27.3,265.05) scale(0.96,1)" text-anchor="end">0</text><text transform="translate(27.3,215.27) scale(0.96,1)" text-anchor="end">2</text><text transform="translate(27.3,164.89) scale(0.96,1)" text-anchor="end">4</text><text transform="translate(27.3,114.51) scale(0.96,1)" text-anchor="end">6</text><text transform="translate(27.3,64.13) scale(0.96,1)" text-anchor="end">8</text><text transform="translate(27.3,13.75) scale(0.96,1)" text-anchor="end">10</text><text transform="translate(34.35,278.0) scale(0.96,1)" text-anchor="middle">0.1</text><text transform="translate(148.65,278.0) scale(0.96,1)" text-anchor="middle">1</text><text transform="translate(262.45,278.0) scale(0.96,1)" text-anchor="middle">10</text><text transform="translate(376.25,278.0) scale(0.96,1)" text-anchor="middle">100</text><text transform="translate(490.05,278.0) scale(0.96,1)" text-anchor="middle">1000</text></g>
<text class="b" x="289.4" y="291.0" text-anchor="middle" font-size="12" style="stroke-width:0.2px">Partical size(&#956;m&#8202;)</text>
<text class="b" transform="translate(13.0,135.3) rotate(-90)" text-anchor="middle" font-size="12.5">Volume(%)</text>
</svg>
</body></html>
